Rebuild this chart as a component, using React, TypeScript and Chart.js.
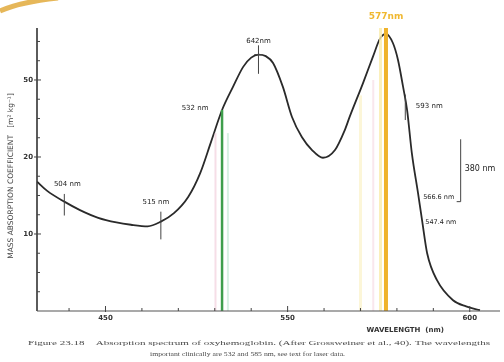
import React, { useEffect, useRef } from "react";
import { Chart, registerables } from "chart.js";

Chart.register(...registerables);

// ---- data ----
const wavelengths = [481.2, 484, 488.7, 493, 498, 503, 507, 511.6, 515.2, 518.8, 522.7, 526, 529, 532, 535, 537.8, 540, 542, 544, 546, 548.7, 551.2, 553.9, 556.7, 559.7, 563, 565.7, 567.1, 570.7, 573.4, 575.4, 577, 578.9, 580.3, 581.7, 582.8, 584.1, 585.8, 586.9, 588.3, 591, 595.4, 599, 602.8];
const absorption = [16.8, 15.6, 14.2, 13.1, 12.1, 11.5, 11.2, 11.0, 11.6, 12.7, 14.8, 17.9, 22.0, 26.1, 29.1, 31.7, 32.9, 33.3, 33.1, 32.2, 29.1, 25.2, 22.6, 20.9, 19.9, 20.9, 23.5, 25.3, 29.6, 33.0, 35.4, 36.0, 34.8, 32.6, 29.1, 26.1, 20.5, 15.3, 11.8, 7.5, 4.0, 1.4, 0.6, 0.1];

const greenLine = 532;
const greenTop = 26.1;
const orangeLine = 577;

const xTickValues = [500, 550, 600];
const xTickLabels = ["450", "550", "600"];
const xMinorTicks = [490, 510, 520, 530, 540, 560, 570, 580, 590];
const yTickValues = [10, 20, 30];
const yTickLabels = ["10", "20", "50"];
const yMinorTicks = [2.5, 5, 7.5, 12.5, 15, 17.5, 22.5, 25, 27.5, 32.5, 35];

const X_MIN = 481.2;
const X_MAX = 608.3;
const Y_MAX = 36.75;

const annotations = [
  { text: "504 nm", x: 488.7, y: 14.2, dx: 3, dy: -17, tick: [-1.8, 1.0] },
  { text: "515 nm", x: 515.2, y: 11.6, dx: -5, dy: -19, tick: [-2.3, 1.3] },
  { text: "532 nm", x: 532, y: 26.1, dx: -27, dy: -2, tick: null },
  { text: "642nm", x: 542, y: 33.3, dx: 0, dy: -13, tick: [-2.5, 1.2] },
  { text: "593 nm", x: 582.3, y: 26.6, dx: 24, dy: 0, tick: [-1.8, 1.5] },
];

function fitText(ctx: CanvasRenderingContext2D, text: string, x: number, y: number, width: number) {
  const w = ctx.measureText(text).width;
  ctx.save();
  ctx.translate(x, y);
  ctx.scale(width / w, 1);
  ctx.textAlign = "left";
  ctx.fillText(text, 0, 0);
  ctx.restore();
}

function App() {
  const ref = useRef<HTMLCanvasElement | null>(null);
  useEffect(() => {
    if (!ref.current) return;
    const points = wavelengths.map((w, i) => ({ x: w, y: absorption[i] }));

    const decor = {
      id: "decor",
      beforeDraw(chart: any) {
        const ctx = chart.ctx;
        ctx.save();
        ctx.fillStyle = "#ffffff";
        ctx.fillRect(0, 0, chart.width, chart.height);
        ctx.strokeStyle = "rgba(226,170,60,0.85)";
        ctx.lineWidth = 5;
        ctx.beginPath();
        ctx.moveTo(0, 11);
        ctx.quadraticCurveTo(20, 2, 58, -2);
        ctx.stroke();
        ctx.restore();
      },
      afterDatasetsDraw(chart: any) {
        const ctx = chart.ctx;
        const xs = chart.scales.x;
        const ys = chart.scales.y;
        const x0 = xs.getPixelForValue(X_MIN);
        const x1 = xs.getPixelForValue(X_MAX);
        const y0 = ys.getPixelForValue(0);
        const yTop = ys.getPixelForValue(Y_MAX);
        ctx.save();
        ctx.strokeStyle = "#333";
        ctx.lineWidth = 1.6;
        ctx.beginPath();
        ctx.moveTo(x0, yTop);
        ctx.lineTo(x0, y0);
        ctx.stroke();
        ctx.lineWidth = 1.1;
        ctx.strokeStyle = "#555";
        ctx.beginPath();
        ctx.moveTo(x0, y0);
        ctx.lineTo(x1, y0);
        ctx.stroke();
        ctx.lineWidth = 1;
        ctx.strokeStyle = "#444";
        yMinorTicks.forEach((v) => {
          const py = ys.getPixelForValue(v);
          ctx.beginPath();
          ctx.moveTo(x0, py);
          ctx.lineTo(x0 + 3, py);
          ctx.stroke();
        });
        ctx.fillStyle = "#333";
        ctx.font = "bold 7px 'DejaVu Sans'";
        ctx.textAlign = "right";
        ctx.textBaseline = "middle";
        yTickValues.forEach((v, i) => {
          const py = ys.getPixelForValue(v);
          ctx.beginPath();
          ctx.moveTo(x0 - 3, py);
          ctx.lineTo(x0 + 4, py);
          ctx.stroke();
          ctx.fillText(yTickLabels[i], x0 - 4, py);
        });
        xMinorTicks.forEach((v) => {
          const px = xs.getPixelForValue(v);
          ctx.beginPath();
          ctx.moveTo(px, y0);
          ctx.lineTo(px, y0 - 3);
          ctx.stroke();
        });
        ctx.textAlign = "center";
        ctx.textBaseline = "top";
        xTickValues.forEach((v, i) => {
          const px = xs.getPixelForValue(v);
          ctx.beginPath();
          ctx.moveTo(px, y0 + 1);
          ctx.lineTo(px, y0 - 5);
          ctx.stroke();
          ctx.fillText(xTickLabels[i], px, y0 + 4);
        });
        ctx.font = "7px 'DejaVu Sans'";
        ctx.fillStyle = "#222";
        annotations.forEach((a) => {
          const px = xs.getPixelForValue(a.x);
          const py = ys.getPixelForValue(a.y);
          if (a.tick) {
            ctx.beginPath();
            ctx.moveTo(px, ys.getPixelForValue(a.y + a.tick[1]));
            ctx.lineTo(px, ys.getPixelForValue(a.y + a.tick[0]));
            ctx.stroke();
          }
          ctx.textAlign = "center";
          ctx.textBaseline = "middle";
          ctx.fillText(a.text, px + a.dx, py + a.dy);
        });
        const pk = xs.getPixelForValue(542);
        const pky = ys.getPixelForValue(33.3);
        ctx.beginPath();
        ctx.moveTo(pk - 4, pky);
        ctx.lineTo(pk + 4, pky);
        ctx.stroke();
        ctx.textAlign = "left";
        const bx = xs.getPixelForValue(597.5);
        ctx.beginPath();
        ctx.moveTo(bx, ys.getPixelForValue(22.3));
        ctx.lineTo(bx, ys.getPixelForValue(14.2));
        ctx.moveTo(bx, ys.getPixelForValue(14.2));
        ctx.lineTo(bx - 4, ys.getPixelForValue(14.2));
        ctx.stroke();
        ctx.font = "8px 'DejaVu Sans'";
        ctx.fillText("380 nm", bx + 4, ys.getPixelForValue(18.4));
        ctx.font = "6.5px 'DejaVu Sans'";
        ctx.fillText("566.6 nm", xs.getPixelForValue(587.2), ys.getPixelForValue(14.7));
        ctx.fillText("547.4 nm", xs.getPixelForValue(587.8), ys.getPixelForValue(11.5));
        ctx.font = "bold 9px 'DejaVu Sans'";
        ctx.fillStyle = "#f0b830";
        ctx.textAlign = "center";
        ctx.fillText("577nm", xs.getPixelForValue(orangeLine), yTop - 11);
        ctx.fillStyle = "#333";
        ctx.font = "bold 7px 'DejaVu Sans'";
        ctx.fillText("WAVELENGTH  (nm)", xs.getPixelForValue(582.3), y0 + 19);
        ctx.save();
        ctx.translate(11, 176);
        ctx.rotate(-Math.PI / 2);
        ctx.font = "7.5px 'DejaVu Sans'";
        ctx.fillStyle = "#444";
        ctx.fillText("MASS ABSORPTION COEFFICIENT   [m² kg⁻¹]", 0, 0);
        ctx.restore();
        ctx.fillStyle = "#4a4a4a";
        ctx.font = "6.5px 'Liberation Serif'";
        ctx.textBaseline = "middle";
        fitText(ctx, "Figure 23.18    Absorption spectrum of oxyhemoglobin. (After Grossweiner et al., 40). The wavelengths", 28, 343, 462);
        fitText(ctx, "important clinically are 532 and 585 nm, see text for laser data.", 150, 354, 195);
        ctx.restore();
      },
    };

    const chart = new Chart(ref.current, {
      type: "line",
      data: {
        datasets: [
          {
            data: [{ x: greenLine - 1.8, y: 0 }, { x: greenLine - 1.8, y: greenTop - 3 }],
            borderColor: "rgba(240,200,215,0.6)",
            borderWidth: 2,
            pointRadius: 0,
          },
          {
            data: [{ x: greenLine + 1.6, y: 0 }, { x: greenLine + 1.6, y: greenTop - 3 }],
            borderColor: "rgba(200,235,215,0.7)",
            borderWidth: 2,
            pointRadius: 0,
          },
          {
            data: [{ x: greenLine, y: 0 }, { x: greenLine, y: greenTop }],
            borderColor: "#3f9e4c",
            borderWidth: 2.5,
            pointRadius: 0,
          },
          {
            data: [{ x: orangeLine - 7, y: 0 }, { x: orangeLine - 7, y: 28 }],
            borderColor: "rgba(250,240,190,0.6)",
            borderWidth: 3,
            pointRadius: 0,
          },
          {
            data: [{ x: orangeLine - 3.5, y: 0 }, { x: orangeLine - 3.5, y: 30 }],
            borderColor: "rgba(245,215,225,0.6)",
            borderWidth: 2,
            pointRadius: 0,
          },
          {
            data: [{ x: orangeLine - 1.5, y: 0 }, { x: orangeLine - 1.5, y: Y_MAX }],
            borderColor: "rgba(250,235,170,0.8)",
            borderWidth: 3,
            pointRadius: 0,
          },
          {
            data: [{ x: orangeLine, y: 0 }, { x: orangeLine, y: Y_MAX }],
            borderColor: "#efb22a",
            borderWidth: 4,
            pointRadius: 0,
          },
          {
            data: points,
            borderColor: "#2a2a2a",
            borderWidth: 1.8,
            pointRadius: 0,
            cubicInterpolationMode: "monotone",
          },
        ],
      },
      options: {
        animation: false,
        responsive: false,
        devicePixelRatio: 1,
        layout: { padding: { left: 37, right: 4, top: 28, bottom: 51 } },
        plugins: { legend: { display: false }, tooltip: { enabled: false } },
        scales: {
          x: { type: "linear", min: X_MIN, max: X_MAX, display: false },
          y: { type: "linear", min: 0, max: Y_MAX, display: false },
        },
      },
      plugins: [decor],
    } as any);
    return () => chart.destroy();
  }, []);

  return (
    <div style={{ position: "fixed", left: 0, top: 0, width: 504, height: 362, background: "#fff" }}>
      <canvas ref={ref} width={504} height={362} style={{ width: 504, height: 362, display: "block" }} />
    </div>
  );
}

export default App;
